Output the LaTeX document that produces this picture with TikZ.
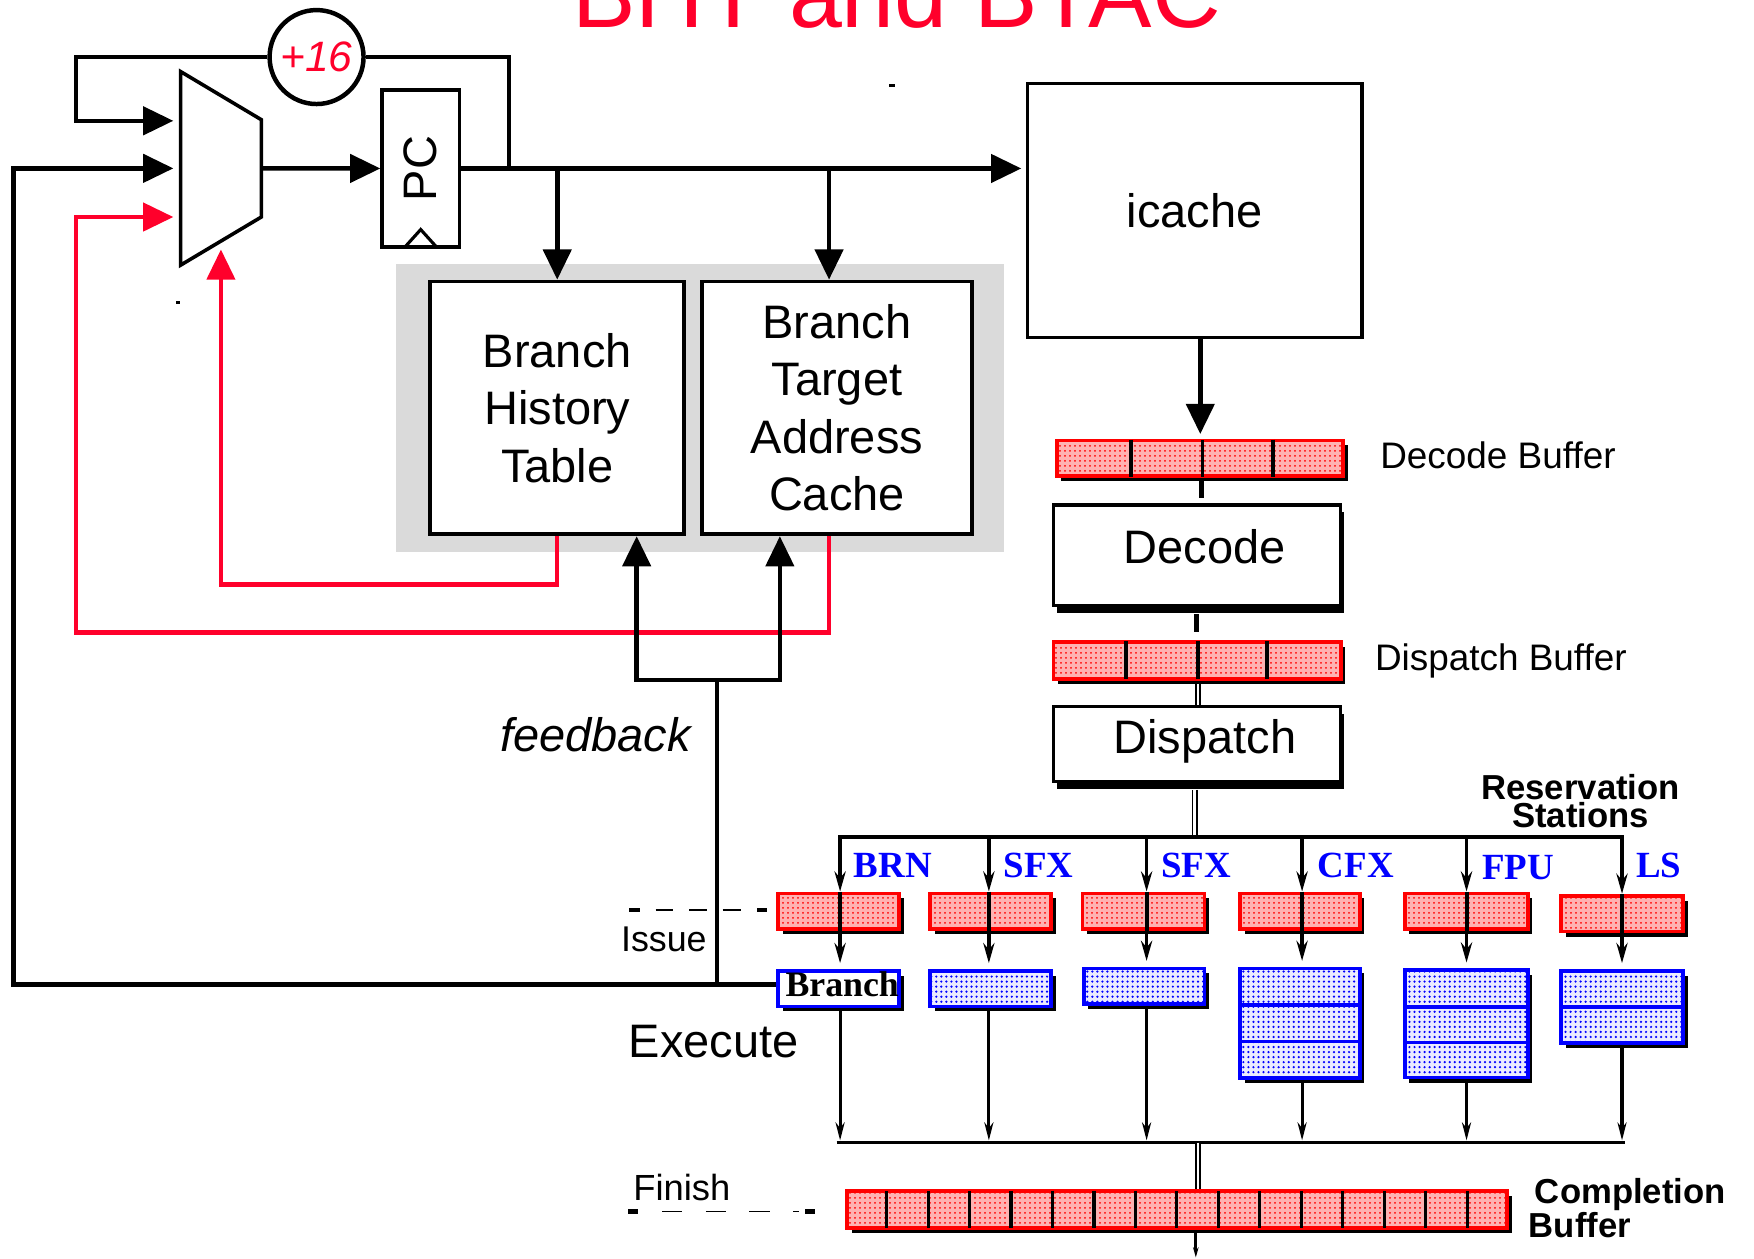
\documentclass[tikz,border=0pt]{standalone}
\usepackage{fontspec}
\setmainfont{Liberation Sans}
\newfontfamily\tnr{Liberation Serif}
\usetikzlibrary{arrows.meta,patterns,patterns.meta,shadows,calc}
\definecolor{lred}{RGB}{255,0,43}
\definecolor{bred}{RGB}{255,0,0}
\definecolor{bblue}{RGB}{0,0,255}
\definecolor{bggray}{RGB}{218,218,218}
\newcommand\fs[1]{\fontsize{#1}{#1}\selectfont}
\begin{document}
\begin{tikzpicture}[x=1pt,y=-1pt,
  every node/.style={inner sep=0pt},
  big/.style={line width=4.1pt},
  bigarrow/.style={big,-{Triangle[length=27pt,width=25pt]}},
  redarrow/.style={draw=lred,line width=4pt,-{Triangle[length=27pt,width=25pt]}},
  sm/.style={line width=3.2pt,-{Stealth[length=18pt,width=10pt,inset=6pt]}},
  smb/.style={line width=2.8pt,-{Stealth[length=16pt,width=8pt,inset=5pt]}},
  dbl/.style={double,double distance=2.5pt,line width=1.6pt},
  dshad/.style={drop shadow={shadow xshift=4pt,shadow yshift=-4.5pt,fill=black,opacity=1}},
  bshad/.style={drop shadow={shadow xshift=3pt,shadow yshift=-6.5pt,fill=black,opacity=1}},
  rbuf/.style={dshad,preaction={fill=red!30},pattern={Dots[distance=4pt,radius=1pt]},pattern color=bred,draw=bred,line width=3.4pt,anchor=north west},
  bbuf/.style={dshad,preaction={fill=blue!8},pattern={Dots[distance=4.5pt,radius=1.1pt]},pattern color=bblue,draw=bblue,line width=3.4pt,anchor=north west},
  bwhite/.style={dshad,fill=white,draw=bblue,line width=3.4pt,anchor=north west},
  stagebox/.style={draw,line width=3pt,fill=white,bshad,anchor=north west},
  unitlab/.style={anchor=base west,text=bblue,font=\tnr\bfseries\fs{33}},
  biglab/.style={font=\fs{42}},
  midlab/.style={anchor=base west,font=\fs{33}},
  boldlab/.style={font=\bfseries\fs{31}}
]
\useasboundingbox (0,0) rectangle (1568,1125);

% title (cut by the top edge)
\node[anchor=base,text=lred,font=\fs{85}] (title) at (801.5,25) {BHT and BTAC};

% +16 adder
\node[circle,draw,line width=4pt,minimum size=84pt,text=lred,font=\fs{38}\itshape] (inc) at (283,51) {+16};

% mux
\draw[line width=3.2pt] (161.5,64) -- (233.6,107) -- (233.6,194) -- (161.5,237) -- cycle;
\coordinate (muxin1) at (155,108);
\coordinate (muxin2) at (155,150.5);
\coordinate (muxin3) at (155,194);
\coordinate (muxout) at (233.6,150.5);
\coordinate (muxbot) at (197.5,223);

% PC
\node[draw,line width=3.2pt,minimum width=69pt,minimum height=140pt,anchor=north west,biglab] (pc) at (340,79) {\rotatebox{90}{PC}};
\draw[line width=2.8pt] ($(pc.south)+(-14,-1.5)$) -- ($(pc.south)+(0,-17)$) -- ($(pc.south)+(14,-1.5)$);

% BHT / BTAC
\node[fill=bggray,minimum width=543pt,minimum height=257pt,anchor=north west] (bg) at (354,236) {};
\node[draw,line width=3.3pt,fill=white,minimum width=227pt,minimum height=226pt,anchor=north west,align=center,font=\fontsize{42}{51.4}\selectfont] (bht) at (383,250) {Branch\\History\\Table};
\node[draw,line width=3.3pt,fill=white,minimum width=241pt,minimum height=226pt,anchor=north west,align=center,font=\fontsize{42}{51.4}\selectfont] (btac) at (626,250) {Branch\\Target\\Address\\Cache};

% icache
\node[draw,line width=3pt,minimum width=299pt,minimum height=227pt,anchor=north west,biglab] (icache) at (917,73) {icache};

% decode buffer / decode / dispatch buffer / dispatch
\node[rbuf,minimum width=256pt,minimum height=32pt] (decb) at (943,392) {};
\foreach \x in {1011,1075,1138} \draw[line width=3.2pt] (\x,393) -- (\x,426);
\node[midlab] (decbl) at (1233.7,418.7) {Decode Buffer};

\node[stagebox,minimum width=257pt,minimum height=90pt] (dec) at (940,450) {};
\node[anchor=base,biglab] (dect) at (1077,503.6) {Decode};

\node[rbuf,minimum width=257pt,minimum height=33pt] (disb) at (940,572) {};
\foreach \x in {1006.6,1070.7,1132.4} \draw[line width=3.2pt] (\x,573) -- (\x,607);
\node[midlab] (disbl) at (1229,599) {Dispatch Buffer};

\node[stagebox,minimum width=257pt,minimum height=67pt] (dis) at (940,630) {};
\node[anchor=base,biglab] (dist) at (1077,674) {Dispatch};

% reservation stations
\node[anchor=base,boldlab] (rsl1) at (1413,714.5) {Reservation};
\node[anchor=base,boldlab] (rsl2) at (1413,740) {Stations};

\node[unitlab] (u1) at (763,784) {BRN};
\node[unitlab] (u2) at (897,784) {SFX};
\node[unitlab] (u3) at (1038,784) {SFX};
\node[unitlab] (u4) at (1178,784) {CFX};
\node[unitlab] (u5) at (1325,786) {FPU};
\node[unitlab] (u6) at (1462.5,784) {LS};

\node[rbuf,minimum width=108pt,minimum height=32pt] (rs1) at (694,797) {};
\node[rbuf,minimum width=108pt,minimum height=32pt] (rs2) at (830,797) {};
\node[rbuf,minimum width=109pt,minimum height=32pt] (rs3) at (966,797) {};
\node[rbuf,minimum width=107pt,minimum height=32pt] (rs4) at (1107,797) {};
\node[rbuf,minimum width=110pt,minimum height=32pt] (rs5) at (1254,797) {};
\node[rbuf,minimum width=109pt,minimum height=32pt] (rs6) at (1394,799) {};

% execution units
\node[bwhite,minimum width=108pt,minimum height=32pt] (ex1) at (694,866) {};
\node[anchor=base west,font=\tnr\bfseries\fs{32}] (ex1t) at (702,891) {Branch};
\node[bbuf,minimum width=108pt,minimum height=32pt] (ex2) at (830,866) {};
\node[bbuf,minimum width=108pt,minimum height=32pt] (ex3) at (967,864) {};
\node[bbuf,minimum width=107pt,minimum height=98pt] (ex4) at (1107,864) {};
\draw[draw=bblue,line width=3.4pt] (1108,898.5) -- (1216,898.5) (1108,931) -- (1216,931);
\node[bbuf,minimum width=110pt,minimum height=96pt] (ex5) at (1254,865.5) {};
\draw[draw=bblue,line width=3.4pt] (1255,900) -- (1366,900) (1255,932) -- (1366,932);
\node[bbuf,minimum width=109pt,minimum height=65pt] (ex6) at (1394,866) {};
\draw[draw=bblue,line width=3.4pt] (1395,900) -- (1505,900);

% completion buffer
\node[rbuf,minimum width=590pt,minimum height=33pt] (cbuf) at (755.5,1063) {};
\foreach \k in {1,...,15} \draw[line width=2.8pt] ({755.5+\k*37.07},1064.5) -- ({755.5+\k*37.07},1097.5);
\node[anchor=base west,boldlab] (cbl1) at (1372,1075.7) {Completion};
\node[anchor=base west,boldlab] (cbl2) at (1366.5,1106) {Buffer};

% stage labels
\node[anchor=base west,font=\fs{32}] (issue) at (555,850.8) {Issue};
\node[anchor=base west,biglab] (exec) at (562,945.5) {Execute};
\node[anchor=base west,font=\fs{32.5}] (finish) at (566,1073.4) {Finish};
\node[anchor=base west,font=\fs{42}\itshape] (fbl) at (447,672) {feedback};

% dashed stage separators
\fill (562,811.5) rectangle (572,815.5);
\draw[line width=1.2pt,dash pattern=on 16pt off 14pt] (586,813.5) -- (664,813.5);
\fill (677,811.5) rectangle (686,815.5);
\fill (561,1081) rectangle (570,1085);
\draw[line width=1.2pt,dash pattern=on 18pt off 21pt] (592,1083) -- (714,1083);
\fill (720,1081) rectangle (729,1085);

% stray marks
\fill (795,75) rectangle (800,78);
\fill (157,269) rectangle (161,272);

% ---------- connectors, top part ----------
\coordinate (tap) at (455,150.5);
\draw[bigarrow] (muxout) -- (pc.west);
\draw[bigarrow,shorten >=4pt] (pc.east) -- (pc.east -| icache.west);
\draw[big] (tap) |- (inc.east);
\draw[bigarrow] (inc.west) -| (68,108) -- (muxin1);
\draw[bigarrow] (bht.north |- tap) -- (bht.north);
\coordinate (btin) at ($(btac.north)+(-7,0)$);
\draw[bigarrow] (btin |- tap) -- (btin);

% red mispredict paths
\draw[redarrow] (bht.south) -- ++(0,43) -| (muxbot);
\draw[redarrow] ($(btac.south)+(-7,0)$) -- ++(0,86) -| (68,194) -- (muxin3);

% feedback from branch unit
\coordinate (fbj) at (641,880);
\coordinate (fbt) at (641,608);
\draw[bigarrow] (ex1.west |- fbj) -- (fbj) -- (12,880) -- (12,150.5) -- (muxin2);
\draw[big] (fbj) -- (fbt);
\draw[bigarrow] (fbt) -| ($(bht.south)+(71,0)$);
\draw[bigarrow] (fbt) -| ($(btac.south)+(-51,0)$);

% ---------- pipeline column ----------
\coordinate (colA) at (1073,0);
\coordinate (colB) at (1074,0);
\coordinate (colC) at (1070,0);
\coordinate (colD) at (1071,0);
\coordinate (colE) at (1068,0);
\coordinate (colF) at (1071,0);
\coordinate (colG) at (1069,0);
\draw[bigarrow,shorten >=4pt] (colA |- icache.south) -- (colA |- decb.north);
\draw[line width=4.5pt,shorten <=3pt,shorten >=5pt] (colB |- decb.south) -- (colB |- dec.north);
\draw[line width=4.5pt,shorten <=6pt,shorten >=7pt] (colC |- dec.south) -- (colC |- disb.north);
\draw[dbl,shorten <=3pt] (colD |- disb.south) -- (colD |- dis.north);
\draw[dbl,shorten <=6pt] (colE |- dis.south) -- (colE |- 0,748);

% buses
\foreach \i/\x in {1/751,2/884,3/1025,4/1164,5/1311,6/1450} {
  \coordinate (d\i) at (\x,748);
  \coordinate (e\i) at (\x,1021.5);
}
\draw[line width=3.2pt] ($(d1)+(-1.6,0)$) -- ($(d6)+(1.6,0)$);
\draw[line width=3pt] ($(e1)+(-3,0)$) -- ($(e6)+(3,0)$);
\foreach \i in {1,...,6} {
  \draw[sm] (d\i) -- (d\i |- rs\i.north);
  \draw[line width=3.6pt] (d\i |- rs\i.north) -- (d\i |- rs\i.south);
  \draw[sm,shorten >=5pt] (d\i |- rs\i.south) -- (d\i |- ex\i.north);
  \draw[smb,shorten >=2pt] (d\i |- ex\i.south) -- (e\i);
}

% to and from completion buffer
\coordinate (cbout) at (1069,1124);
\draw[dbl] (colF |- e1) -- (colF |- cbuf.north);
\draw[line width=2.8pt,-{Stealth[length=9pt,width=5pt]}] (colG |- cbuf.south) -- (cbout);
\end{tikzpicture}
\end{document}
